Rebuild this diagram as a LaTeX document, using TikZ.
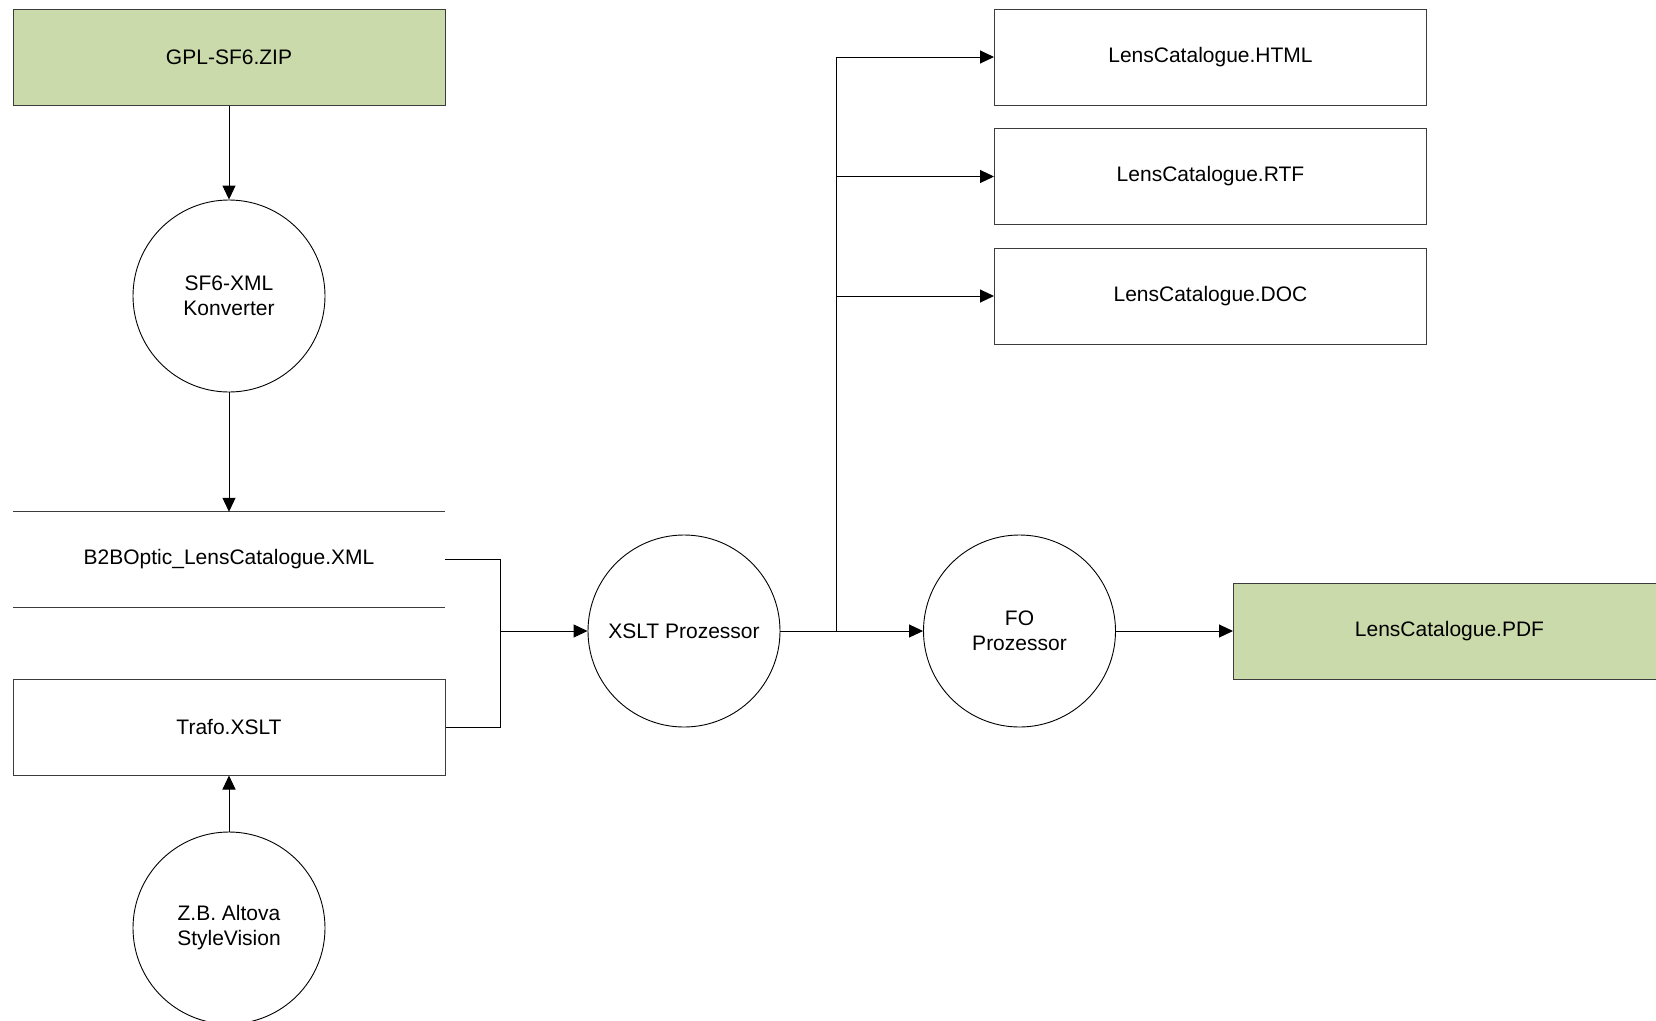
\documentclass[tikz,border=0pt]{standalone}
\usepackage{fontspec}
\setmainfont{Liberation Sans}
\usetikzlibrary{arrows.meta}
\definecolor{boxgreen}{HTML}{CBDAAA}
\definecolor{edgegray}{HTML}{3C3C3C}
\begin{document}
\begin{tikzpicture}[x=1pt,y=-1pt,
  every node/.style={font=\fontsize{21}{25}\selectfont, align=center, inner sep=0pt},
  filebox/.style={draw=edgegray, line width=1pt, rectangle, minimum width=432pt, minimum height=96pt},
  greenbox/.style={filebox, fill=boxgreen},
  storebox/.style={rectangle, minimum width=432pt, minimum height=95pt},
  proc/.style={draw=black, line width=0.9pt, circle, minimum size=192pt},
  flow/.style={draw=black, line width=1pt, -{Triangle[length=14pt,width=13pt]}},
  link/.style={draw=black, line width=1pt},
  storeline/.style={draw=edgegray, line width=1pt}]
\path[use as bounding box, clip] (0,0) rectangle (1656,1020);
\fill[white] (0,0) rectangle (1656,1020);

% nodes
\node[greenbox] (zip) at (229,57) {GPL-SF6.ZIP};
\node[proc] (conv) at (229,296) {SF6-XML\\Konverter};
\node[storebox] (xml) at (229,559.5) {B2BOptic\_LensCatalogue.XML};
\node[filebox] (trafo) at (229,727) {Trafo.XSLT};
\node[proc] (alt) at (229,928) {Z.B. Altova\\StyleVision};
\node[proc] (xslt) at (684,631) {XSLT Prozessor};
\node[proc] (fo) at (1019.5,631) {FO\\Prozessor};
\node[greenbox] (pdf) at (1449.5,631) {LensCatalogue.PDF};
\node[filebox] (html) at (1210.5,57) {LensCatalogue.HTML};
\node[filebox] (rtf) at (1210.5,176.5) {LensCatalogue.RTF};
\node[filebox] (doc) at (1210.5,296) {LensCatalogue.DOC};

% data store lines
\draw[storeline] (xml.north west) -- (xml.north east);
\draw[storeline] (xml.south west) -- (xml.south east);

% junctions
\coordinate (merge) at (500,631);
\coordinate (branch) at (836,631);

% connectors
\draw[flow] (zip) -- (conv);
\draw[flow] (conv) -- (xml.north);
\draw[flow] (alt) -- (trafo);
\draw[link] (xml.east) -| (merge);
\draw[link] (trafo.east) -| (merge);
\draw[flow] (merge) -- (xslt.west);
\draw[flow] (xslt.east) -- (fo.west);
\draw[flow] (fo.east) -- (pdf.west);
\draw[link] (branch) -- (branch |- html.west);
\draw[flow] (branch |- html.west) -- (html.west);
\draw[flow] (branch |- rtf.west) -- (rtf.west);
\draw[flow] (branch |- doc.west) -- (doc.west);
\end{tikzpicture}
\end{document}
